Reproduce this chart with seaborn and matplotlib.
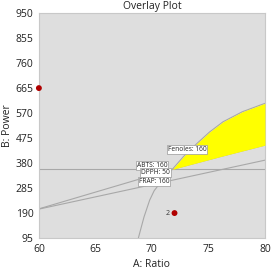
import numpy as np
import pandas as pd
import seaborn as sns
import matplotlib.pyplot as plt

sns.set_style("white")
plt.rcParams['font.family'] = ['Open Sans', 'DejaVu Sans']

# contour lines (A: Ratio, B: Power)
curve_x = [68.8, 69.3, 69.8, 70.2, 70.7, 71.8, 72.8, 74.0, 75.1, 76.3, 78.0, 80.0]
curve_y = [95, 175, 239, 275, 303, 356, 405, 455, 498, 537, 575, 607]
upper_x = [60, 71.8, 76, 80]
upper_y = [206, 356, 404, 448]
lower_x = [60, 80]
lower_y = [205, 391]
hline_y = 356

# design points
pts_x = [60, 72]
pts_y = [665, 190]
pts_lab = ['', '2']

# flag labels
flag_txt = ['Fenoles: 160', 'ABTS: 160', 'DPPH: 50', 'FRAP: 160']
flag_x = [73.1, 70.0, 70.3, 70.2]
flag_y = [432, 371, 346, 309]

yticks = [95, 190, 285, 380, 475, 570, 665, 760, 855, 950]
xticks = [60, 65, 70, 75, 80]

fig = plt.figure(figsize=(2.72, 2.73), dpi=100)
ax = fig.add_axes([0.143, 0.128, 0.831, 0.824])
ax.set_facecolor('#dedede')

gray = '#a8a8a8'
df_c = pd.DataFrame({'x': curve_x, 'y': curve_y})
df_u = pd.DataFrame({'x': upper_x, 'y': upper_y})
df_l = pd.DataFrame({'x': lower_x, 'y': lower_y})
sns.lineplot(data=df_c, x='x', y='y', ax=ax, color=gray, lw=0.8, sort=False)
sns.lineplot(data=df_u, x='x', y='y', ax=ax, color=gray, lw=0.8, sort=False)
sns.lineplot(data=df_l, x='x', y='y', ax=ax, color=gray, lw=0.8, sort=False)
ax.axhline(hline_y, color=gray, lw=0.8)

# yellow sweet spot between curve (top) and upper line (bottom)
xs = np.linspace(71.8, 80, 200)
top = np.interp(xs, curve_x, curve_y)
bot = np.interp(xs, upper_x, upper_y)
ax.fill_between(xs, bot, top, color='#ffff00', lw=0, zorder=3)

df_p = pd.DataFrame({'x': pts_x, 'y': pts_y})
sns.scatterplot(data=df_p, x='x', y='y', ax=ax, color='#b00000', s=18,
                edgecolor='none', zorder=5, clip_on=False)
for px, py, pl in zip(pts_x, pts_y, pts_lab):
    if pl:
        ax.text(px - 0.4, py, pl, fontsize=5, ha='right', va='center', color='#333333')

for t, fx, fy in zip(flag_txt, flag_x, flag_y):
    ax.text(fx, fy, t, fontsize=4.8, ha='center', va='center', color='#222222', zorder=6,
            bbox=dict(boxstyle='square,pad=0.15', fc='white', ec='#999999', lw=0.5))

ax.set_xlim(60, 80)
ax.set_ylim(95, 950)
ax.set_xticks(xticks)
ax.set_yticks(yticks)
ax.tick_params(axis='both', labelsize=7.5, length=2, width=0.6, color='#bbbbbb',
               labelcolor='#222222', pad=2, direction='out')
for s in ax.spines.values():
    s.set_color('#c8c8c8')
    s.set_linewidth(0.8)
ax.set_title('Overlay Plot', fontsize=7.5, color='#222222', pad=3)
ax.set_xlabel('A: Ratio', fontsize=7.5, color='#222222', labelpad=3)
ax.set_ylabel('B: Power', fontsize=7.5, color='#222222', labelpad=2)

fig.savefig('out.png', dpi=100)
